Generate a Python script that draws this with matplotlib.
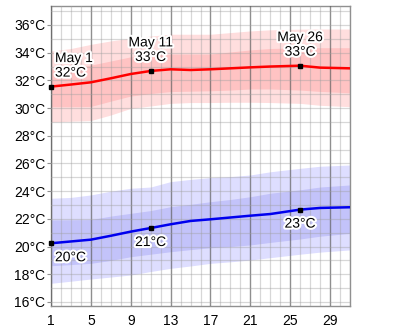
import numpy as np
import matplotlib.pyplot as plt
import matplotlib.patheffects as pe
from matplotlib.ticker import MultipleLocator, FixedLocator

plt.rcParams['font.family'] = ['Liberation Sans', 'DejaVu Sans']

# Days of May and daily temperatures (°C)
days = [1, 3, 5, 7, 9, 11, 13, 15, 17, 19, 21, 23, 26, 28, 31]

high_mean = [31.55, 31.70, 31.86, 32.15, 32.46, 32.68, 32.80, 32.75, 32.80, 32.87, 32.94, 33.00, 33.06, 32.92, 32.87]
high_p90 = [34.12, 34.30, 34.60, 34.85, 35.04, 35.20, 35.33, 35.33, 35.33, 35.45, 35.57, 35.65, 35.70, 35.71, 35.71]
high_p75 = [32.82, 32.90, 33.10, 33.40, 33.70, 33.80, 33.90, 33.90, 33.90, 34.05, 34.20, 34.30, 34.36, 34.36, 34.36]
high_p25 = [30.10, 30.10, 30.12, 30.50, 30.87, 31.05, 31.19, 31.22, 31.25, 31.30, 31.38, 31.38, 31.30, 31.20, 31.10]
high_p10 = [29.00, 29.05, 29.10, 29.50, 29.98, 30.15, 30.34, 30.40, 30.40, 30.42, 30.42, 30.40, 30.34, 30.20, 30.10]

low_mean = [20.24, 20.37, 20.50, 20.78, 21.08, 21.34, 21.61, 21.85, 21.97, 22.10, 22.23, 22.35, 22.67, 22.79, 22.84]
low_p90 = [23.49, 23.55, 23.73, 24.00, 24.21, 24.30, 24.69, 24.85, 24.98, 25.05, 25.17, 25.40, 25.65, 25.80, 25.89]
low_p75 = [21.92, 21.93, 21.95, 22.20, 22.40, 22.60, 22.88, 23.05, 23.24, 23.40, 23.60, 23.85, 24.10, 24.30, 24.45]
low_p25 = [18.62, 18.70, 18.79, 19.00, 19.27, 19.45, 19.63, 19.78, 19.92, 20.00, 20.12, 20.30, 20.55, 20.75, 20.96]
low_p10 = [17.35, 17.50, 17.66, 17.80, 17.95, 18.20, 18.43, 18.60, 18.79, 18.90, 19.03, 19.20, 19.45, 19.60, 19.76]

marked_days = [1, 11, 26]

fig = plt.figure(figsize=(4.0, 3.29), dpi=100)
ax = fig.add_axes([51 / 400, 23 / 329, 299 / 400, 300 / 329])

ax.fill_between(days, high_p10, high_p90, color='#ffdede', lw=0, zorder=0.5)
ax.fill_between(days, high_p25, high_p75, color='#ffc3c3', lw=0, zorder=0.6)
ax.fill_between(days, low_p10, low_p90, color='#dedeff', lw=0, zorder=0.5)
ax.fill_between(days, low_p25, low_p75, color='#c3c3fa', lw=0, zorder=0.6)

ax.plot(days, high_mean, color='#ff0000', lw=1.8, zorder=3)
ax.plot(days, low_mean, color='#0000ee', lw=1.8, zorder=3)

ax.set_xlim(1, 31)
ax.set_ylim(15.71, 37.37)

# grid: every day / degree, darker every fourth day
ax.xaxis.set_major_locator(FixedLocator(np.arange(1, 30, 4)))
ax.xaxis.set_minor_locator(MultipleLocator(1))
ax.yaxis.set_major_locator(MultipleLocator(2))
ax.yaxis.set_minor_locator(MultipleLocator(1))
ax.grid(which='minor', color='#a0a0a0', alpha=0.42, lw=0.9, zorder=1)
ax.grid(which='major', axis='y', color='#a0a0a0', alpha=0.42, lw=0.9, zorder=1)
ax.grid(which='major', axis='x', color='#606060', alpha=0.7, lw=1.0, zorder=1)
ax.set_axisbelow(False)

ax.yaxis.set_major_formatter(lambda v, pos: f'{v:.0f}°C')
ax.tick_params(axis='y', which='major', length=3, color='#909090', pad=1, labelsize=10)
ax.tick_params(axis='x', which='major', length=0, pad=6, labelsize=10)
ax.tick_params(which='minor', length=0)
for s in ax.spines.values():
    s.set_color('#909090')
    s.set_linewidth(1.0)

halo = [pe.withStroke(linewidth=3, foreground='white')]


def value_at(series, d):
    return series[days.index(d)]


for d in marked_days:
    hv = value_at(high_mean, d)
    lv = value_at(low_mean, d)
    ax.plot([d, d], [hv, lv], ls='none', marker='s', ms=2.6, color='black', zorder=4, clip_on=False)
    first = d == marked_days[0]
    ha = 'left' if first else 'center'
    dx = 4 if first else 0
    ax.annotate(f'May {d}\n{round(hv)}°C', (d, hv), xytext=(dx, 7), textcoords='offset pixels',
                ha=ha, va='bottom', fontsize=10, linespacing=1.05, path_effects=halo, zorder=5)
    ax.annotate(f'{round(lv)}°C', (d, lv), xytext=(dx, -7), textcoords='offset pixels',
                ha=ha, va='top', fontsize=10, path_effects=halo, zorder=5)

fig.savefig('out.png', dpi=100)
